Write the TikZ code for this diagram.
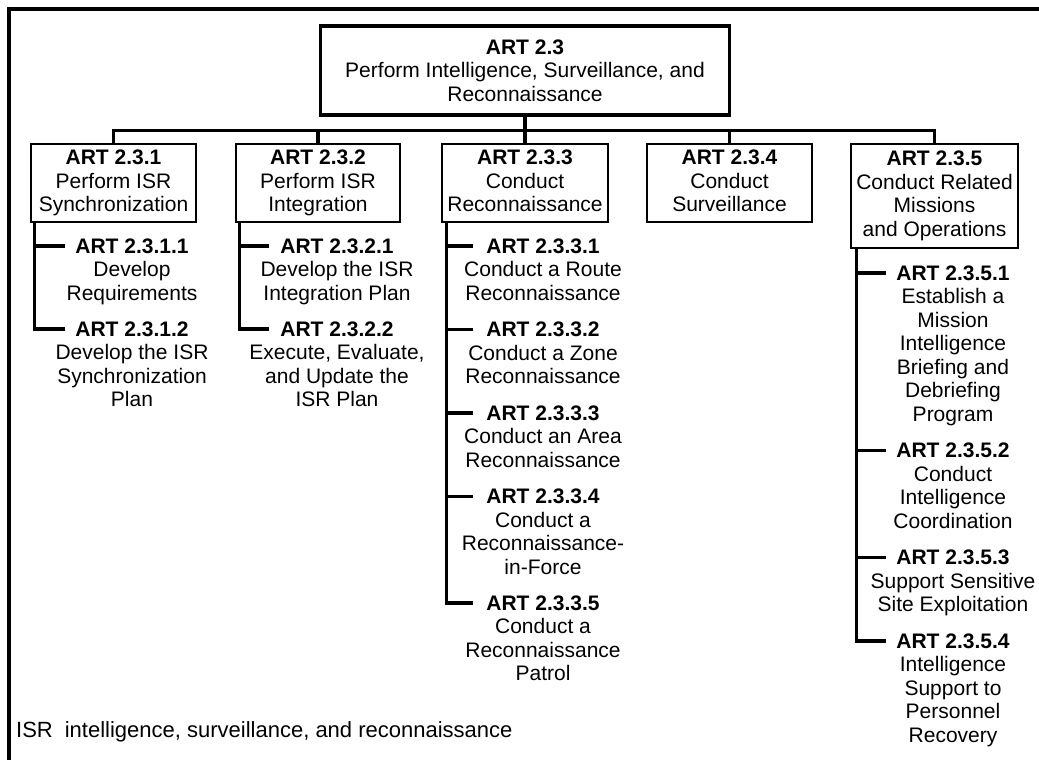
\documentclass[tikz,border=0pt]{standalone}
\usepackage{fontspec}
\setmainfont{Liberation Sans}
\begin{document}
\begin{tikzpicture}[x=1pt,y=1pt,
  txt/.style={font=\fontsize{21}{23.5}\selectfont, align=center, inner sep=0pt},
  topbox/.style={txt, draw, line width=3.2pt, minimum width=409pt, minimum height=89pt},
  taskbox/.style={txt, draw, line width=2.6pt, minimum width=165pt, minimum height=78pt},
  subtask/.style={txt, anchor=north},
  conn/.style={line width=3.2pt},
  frame/.style={line width=3.4pt},
  note/.style={font=\fontsize{22}{26}\selectfont, anchor=base west, inner sep=0pt}
  ]
\useasboundingbox (0,0) rectangle (1039,-760);

% outer frame (top and left edges)
\draw[frame] (1039,-9) -- (9,-9) -- (9,-760);

% top-level task
\node[topbox] (root) at (525,-70.5)
  {\textbf{ART 2.3}\\Perform Intelligence, Surveillance, and\\Reconnaissance};

% second-level tasks
\node[taskbox] (b1) at (113.5,-183)
  {\textbf{ART 2.3.1}\\Perform ISR\\Synchronization\vphantom{g}};
\node[taskbox, minimum width=164pt] (b2) at (318,-183)
  {\textbf{ART 2.3.2}\\Perform ISR\\Integration\vphantom{g}};
\node[taskbox, minimum width=166pt] (b3) at (525,-183)
  {\textbf{ART 2.3.3}\\Conduct\\Reconnaissance\vphantom{g}};
\node[taskbox] (b4) at (729.5,-183)
  {\textbf{ART 2.3.4}\\Conduct\\Surveillance\vphantom{g}};
\node[taskbox, minimum width=167pt, minimum height=104pt] (b5) at (934.5,-196)
  {\textbf{ART 2.3.5}\\Conduct Related\\Missions\\and Operations\vphantom{g}};

% bus from the top task to the second level
\draw[conn] (root.south) -- (b3.north);
\draw[conn] (b1.north) -- ++(0,12) -| (b5.north);
\draw[conn] (b2.north) -- ++(0,12);
\draw[conn] (b4.north) -- ++(0,12);

% ---- column 1
\coordinate (v1) at ([xshift=5pt]b1.south west);
\coordinate (k11) at (65,-246);
\coordinate (k12) at (65,-329);
\node[subtask] (s11) at (132,-238.4) {\textbf{ART 2.3.1.1}\\Develop\\Requirements};
\node[subtask] (s12) at (132,-321.4) {\textbf{ART 2.3.1.2}\\Develop the ISR\\Synchronization\\Plan};
\draw[conn] (v1) |- (k12);
\draw[conn] (v1 |- k11) -- (k11);

% ---- column 2
\coordinate (v2) at ([xshift=5pt]b2.south west);
\coordinate (k21) at (269,-246);
\coordinate (k22) at (269,-329);
\node[subtask] (s21) at (337,-238.4) {\textbf{ART 2.3.2.1}\\Develop the ISR\\Integration Plan};
\node[subtask] (s22) at (337,-321.4) {\textbf{ART 2.3.2.2}\\Execute, Evaluate,\\and Update the\\ISR Plan};
\draw[conn] (v2) |- (k22);
\draw[conn] (v2 |- k21) -- (k21);

% ---- column 3
\coordinate (v3) at ([xshift=6pt]b3.south west);
\coordinate (k31) at (473,-246);
\coordinate (k32) at (473,-329.5);
\coordinate (k33) at (473,-413);
\coordinate (k34) at (473,-496.5);
\coordinate (k35) at (473,-603);
\node[subtask] (s31) at (543,-238.4) {\textbf{ART 2.3.3.1}\\Conduct a Route\\Reconnaissance};
\node[subtask] (s32) at (543,-321.9) {\textbf{ART 2.3.3.2}\\Conduct a Zone\\Reconnaissance};
\node[subtask] (s33) at (543,-405.4) {\textbf{ART 2.3.3.3}\\Conduct an Area\\Reconnaissance};
\node[subtask] (s34) at (543,-488.9) {\textbf{ART 2.3.3.4}\\Conduct a\\Reconnaissance-\\in-Force};
\node[subtask] (s35) at (543,-595.4) {\textbf{ART 2.3.3.5}\\Conduct a\\Reconnaissance\\Patrol};
\draw[conn] (v3) |- (k35);
\draw[conn] (v3 |- k31) -- (k31);
\draw[conn] (v3 |- k32) -- (k32);
\draw[conn] (v3 |- k33) -- (k33);
\draw[conn] (v3 |- k34) -- (k34);

% ---- column 5
\coordinate (v5) at ([xshift=7pt]b5.south west);
\coordinate (k51) at (886,-273);
\coordinate (k52) at (886,-450.5);
\coordinate (k53) at (886,-557.5);
\coordinate (k54) at (886,-641);
\node[subtask] (s51) at (953,-265.4) {\textbf{ART 2.3.5.1}\\Establish a\\Mission\\Intelligence\\Briefing and\\Debriefing\\Program};
\node[subtask] (s52) at (953,-442.9) {\textbf{ART 2.3.5.2}\\Conduct\\Intelligence\\Coordination};
\node[subtask] (s53) at (953,-549.9) {\textbf{ART 2.3.5.3}\\Support Sensitive\\Site Exploitation};
\node[subtask] (s54) at (953,-633.4) {\textbf{ART 2.3.5.4}\\Intelligence\\Support to\\Personnel\\Recovery};
\draw[conn] (v5) |- (k54);
\draw[conn] (v5 |- k51) -- (k51);
\draw[conn] (v5 |- k52) -- (k52);
\draw[conn] (v5 |- k53) -- (k53);

% acronym note
\node[note] (acr) at (16,-737) {ISR\hspace{12pt}intelligence, surveillance, and reconnaissance};
\end{tikzpicture}
\end{document}
